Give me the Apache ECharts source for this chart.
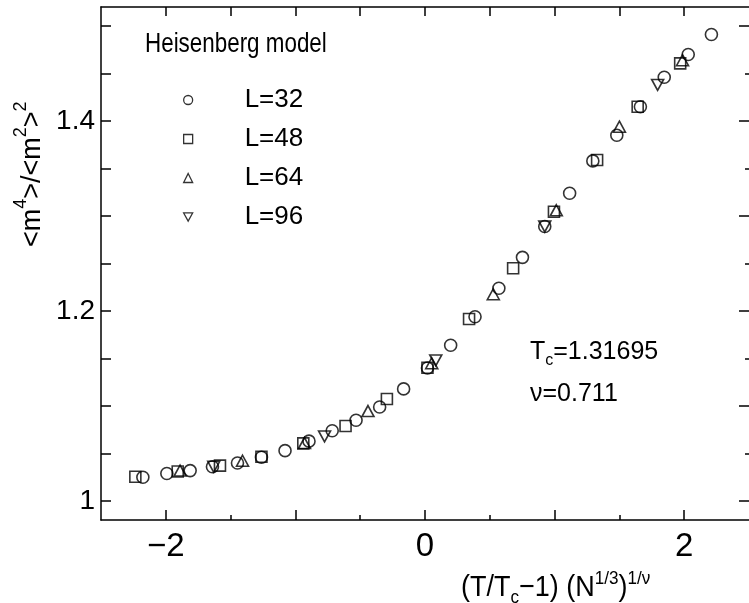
<!DOCTYPE html>
<html>
<head>
<meta charset="utf-8">
<script src="https://cdn.jsdelivr.net/npm/echarts@6/dist/echarts.min.js"></script>
<style>
  html, body { margin: 0; padding: 0; background: #fff; }
  #chart { width: 749px; height: 603px; }
</style>
</head>
<body>
<div id="chart"></div>
<script>
// Binder cumulant ratio <m^4>/<m^2>^2 against the scaled temperature
// for several lattice sizes L.
const L32_x = [-2.177, -1.992, -1.812, -1.640, -1.447, -1.262, -1.080, -0.895, -0.716, -0.532, -0.350, -0.165, 0.019, 0.198, 0.386, 0.570, 0.752, 0.924, 1.116, 1.295, 1.480, 1.662, 1.846, 2.031, 2.210];
const L32_y = [1.025, 1.029, 1.032, 1.036, 1.040, 1.046, 1.053, 1.063, 1.074, 1.085, 1.099, 1.118, 1.140, 1.164, 1.194, 1.224, 1.2565, 1.289, 1.324, 1.358, 1.385, 1.415, 1.446, 1.470, 1.491];

const L48_x = [-2.235, -1.908, -1.582, -1.262, -0.939, -0.613, -0.294, 0.019, 0.340, 0.680, 0.995, 1.328, 1.641, 1.969];
const L48_y = [1.0256, 1.031, 1.0372, 1.0466, 1.0607, 1.0789, 1.1074, 1.1403, 1.1916, 1.245, 1.3045, 1.359, 1.415, 1.4607];

const L64_x = [-1.890, -1.408, -0.930, -0.440, 0.052, 0.527, 1.013, 1.500, 1.987];
const L64_y = [1.032, 1.0424, 1.061, 1.0947, 1.145, 1.2176, 1.306, 1.394, 1.464];

const L96_x = [-1.630, -0.775, 0.083, 0.924, 1.795];
const L96_y = [1.036, 1.068, 1.148, 1.289, 1.438];

const seriesNames = ['L=32', 'L=48', 'L=64', 'L=96'];

const xMajorTicks = [-2, -1, 0, 1, 2];
const xMinorTicks = [-1.5, -0.5, 0.5, 1.5];
const xTopTicks = [-2, -1.5, -1, -0.5, 0, 0.5, 1, 1.5, 2];
const xTickLabels = [-2, 0, 2];
const yTicks = [1, 1.05, 1.1, 1.15, 1.2, 1.25, 1.3, 1.35, 1.4, 1.45, 1.5];
const yRightMajor = [1, 1.1, 1.2, 1.3, 1.4, 1.5];
const yRightMinor = [1.05, 1.15, 1.25, 1.35, 1.45];
const yTickLabels = [1, 1.2, 1.4];

const zip = (xs, ys) => xs.map((x, i) => [x, ys[i]]);

const FONT = 'Liberation Sans, Arial, sans-serif';

const markStyle = { color: 'rgba(255,255,255,0)', borderColor: '#000', borderWidth: 1.6 };

const chart = echarts.init(document.getElementById('chart'), null, { renderer: 'canvas' });

const xBase = { type: 'value', min: -2.5, max: 2.5, gridIndex: 0, splitLine: { show: false } };
const yBase = { type: 'value', min: 0.98, max: 1.52, gridIndex: 0, splitLine: { show: false } };
const lineStyle = { color: '#000', width: 1.5 };
const noLine = { show: false, onZero: false };

// down-pointing triangle for the L=96 legend entry
const downTriangle = 'path://M0,0 L10,0 L5,9 Z';

chart.setOption({
  backgroundColor: '#fff',
  animation: false,
  grid: { left: 101, top: 7, width: 651, height: 513, containLabel: false },
  xAxis: [
    Object.assign({}, xBase, {
      position: 'bottom',
      axisLine: { show: true, onZero: false, lineStyle },
      axisTick: { show: true, inside: true, length: 10, customValues: xMajorTicks, lineStyle },
      axisLabel: {
        show: true, customValues: xTickLabels, margin: 10,
        fontFamily: FONT, fontSize: 33, color: '#000',
        formatter: v => (v < 0 ? '\u2212' + Math.abs(v) : String(v))
      }
    }),
    Object.assign({}, xBase, {
      position: 'bottom',
      axisLine: noLine,
      axisTick: { show: true, inside: true, length: 5, customValues: xMinorTicks, lineStyle },
      axisLabel: { show: false }
    }),
    Object.assign({}, xBase, {
      position: 'top',
      axisLine: { show: true, onZero: false, lineStyle },
      axisTick: { show: true, inside: true, length: 9, customValues: xTopTicks, lineStyle },
      axisLabel: { show: false }
    })
  ],
  yAxis: [
    Object.assign({}, yBase, {
      position: 'left',
      axisLine: { show: true, onZero: false, lineStyle },
      axisTick: { show: true, inside: true, length: 10, customValues: yTicks, lineStyle },
      axisLabel: {
        show: true, customValues: yTickLabels, margin: 6,
        fontFamily: FONT, fontSize: 28, color: '#000',
        formatter: v => (v === 1 ? '1' : v.toFixed(1))
      }
    }),
    Object.assign({}, yBase, {
      position: 'right',
      axisLine: noLine,
      axisTick: { show: true, inside: true, length: 10, customValues: yRightMajor, lineStyle },
      axisLabel: { show: false }
    }),
    Object.assign({}, yBase, {
      position: 'right',
      axisLine: noLine,
      axisTick: { show: true, inside: true, length: 4, customValues: yRightMinor, lineStyle },
      axisLabel: { show: false }
    })
  ],
  legend: {
    orient: 'vertical',
    left: 178,
    top: 82,
    itemWidth: 9,
    itemHeight: 9,
    itemGap: 13,
    data: [
      { name: 'L=32' },
      { name: 'L=48' },
      { name: 'L=64' },
      { name: 'L=96', icon: downTriangle }
    ],
    itemStyle: { color: 'rgba(255,255,255,0)', borderColor: '#000', borderWidth: 1.3 },
    textStyle: { fontFamily: FONT, fontSize: 26, color: '#000', padding: [0, 0, 0, 47] },
    selectedMode: false
  },
  series: [
    { name: 'L=32', type: 'scatter', symbol: 'circle', symbolSize: 12, data: zip(L32_x, L32_y), z: 4 },
    { name: 'L=48', type: 'scatter', symbol: 'rect', symbolSize: 11, data: zip(L48_x, L48_y), z: 3 },
    { name: 'L=64', type: 'scatter', symbol: 'triangle', symbolSize: [12, 11], data: zip(L64_x, L64_y), z: 2 },
    { name: 'L=96', type: 'scatter', symbol: 'triangle', symbolRotate: 180, symbolSize: [12, 11], data: zip(L96_x, L96_y), z: 1 }
  ].map(s => Object.assign(s, { xAxisIndex: 0, yAxisIndex: 0, itemStyle: markStyle })),
  graphic: [
    {
      type: 'text', x: 145, y: 30, scaleX: 0.8,
      style: { text: 'Heisenberg model', fontFamily: FONT, fontSize: 28, fill: '#000' }
    },
    {
      type: 'text', left: 530, top: 340,
      style: {
        text: '{a|T}{b|c}{a|=1.31695}',
        rich: {
          a: { fontFamily: FONT, fontSize: 25, fill: '#000', lineHeight: 32 },
          b: { fontFamily: FONT, fontSize: 16, fill: '#000', verticalAlign: 'bottom', lineHeight: 32 }
        }
      }
    },
    {
      type: 'text', left: 530, top: 382,
      style: { text: '\u03bd=0.711', fontFamily: FONT, fontSize: 25, fill: '#000' }
    },
    {
      type: 'text', x: 12, y: 247, rotation: Math.PI / 2,
      style: {
        text: '{a|<m}{s|4}{a|>/<m}{s|2}{a|>}{s|2}',
        rich: {
          a: { fontFamily: FONT, fontSize: 27, fill: '#000', lineHeight: 34, verticalAlign: 'bottom' },
          s: { fontFamily: FONT, fontSize: 18, fill: '#000', lineHeight: 34, verticalAlign: 'top' }
        }
      }
    },
    {
      type: 'text', x: 461, y: 569, scaleX: 0.9,
      style: {
        text: '{a|(T/T}{b|c}{a|\u22121) (N}{s|1/3}{a|)}{s|1/\u03bd}',
        rich: {
          a: { fontFamily: FONT, fontSize: 30, fill: '#000', lineHeight: 34, verticalAlign: 'bottom' },
          b: { fontFamily: FONT, fontSize: 19, fill: '#000', lineHeight: 34, verticalAlign: 'bottom', padding: [0, 0, -4, 0] },
          s: { fontFamily: FONT, fontSize: 19, fill: '#000', lineHeight: 34, verticalAlign: 'top' }
        }
      }
    }
  ]
});
</script>
</body>
</html>
